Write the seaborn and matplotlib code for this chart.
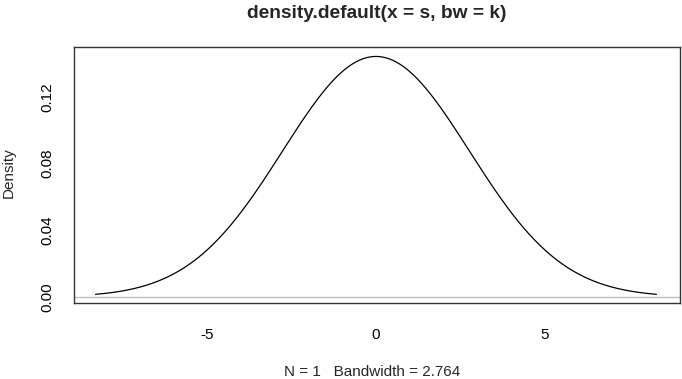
import numpy as np
import pandas as pd
import matplotlib
matplotlib.use("Agg")
import matplotlib.pyplot as plt
import seaborn as sns

# Data shown in the chart: one observation, Gaussian kernel bandwidth
sample = [0.0]
bandwidth = 2.764
n_points = 512
title = "density.default(x = s, bw = k)"
x_label = "N = 1   Bandwidth = 2.764"
y_label = "Density"
x_ticks = [-5, 0, 5]
y_ticks = [0.00, 0.04, 0.08, 0.12]
y_tick_labels = ["0.00", "0.04", "0.08", "0.12"]

# Kernel density estimate (same as R's density(): grid from min-3bw to max+3bw)
s = np.asarray(sample)
grid = np.linspace(s.min() - 3 * bandwidth, s.max() + 3 * bandwidth, n_points)
dens = np.exp(-0.5 * ((grid[:, None] - s[None, :]) / bandwidth) ** 2).sum(axis=1)
dens /= len(s) * bandwidth * np.sqrt(2 * np.pi)
df = pd.DataFrame({"x": grid, "density": dens})

sns.set_style("white")
plt.rcParams["font.family"] = ["Liberation Sans", "DejaVu Sans"]

fig = plt.figure(figsize=(6.82, 3.79), dpi=100)
ax = fig.add_axes([74 / 682, 1 - 303 / 379, 606 / 682, 256 / 379])

ax.axhline(0, color="#BEBEBE", lw=1.0, zorder=1)
sns.lineplot(data=df, x="x", y="density", ax=ax, color="black", lw=0.9, zorder=2)

ax.set_xlim(-8.93, 8.99)
ax.set_ylim(-0.0036, 0.1500)
ax.set_xticks(x_ticks)
ax.set_xticklabels([str(t) for t in x_ticks])
ax.set_yticks(y_ticks)
ax.set_yticklabels(y_tick_labels, rotation=90, va="center")
ax.tick_params(axis="both", direction="out", length=7.2, width=1.0, color="#333333",
               labelsize=11, labelcolor="black")
ax.tick_params(axis="x", pad=10.5)
ax.tick_params(axis="y", pad=7.0)
for side in ["left", "right", "top", "bottom"]:
    ax.spines[side].set_visible(True)
    ax.spines[side].set_color("#333333")
    ax.spines[side].set_linewidth(1.0)

ax.set_xlabel(x_label, fontsize=11)
ax.xaxis.set_label_coords((372.5 - 74) / 606, (303 - 372) / 256)
ax.xaxis.label.set_va("center")
ax.set_ylabel(y_label, fontsize=11)
ax.yaxis.set_label_coords((9 - 74) / 606, (303 - 173) / 256)
ax.yaxis.label.set_va("center")

ax.text(0.5, (303 - 14) / 256, title, transform=ax.transAxes, ha="center",
        va="center", fontsize=13.8, fontweight="bold")

fig.savefig("out.png", dpi=100, facecolor="white")
